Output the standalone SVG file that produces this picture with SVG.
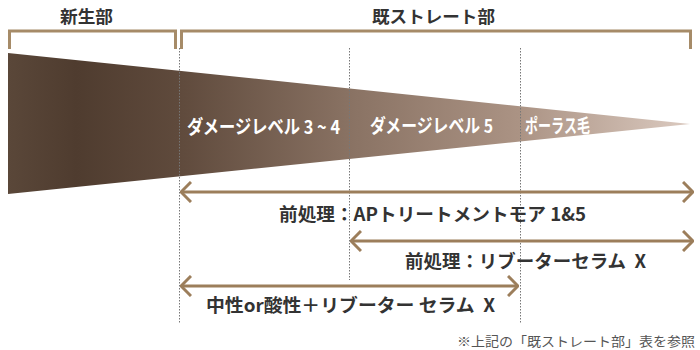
<svg xmlns="http://www.w3.org/2000/svg" width="700" height="350" viewBox="0 0 700 350">
<defs>
<linearGradient id="wedgeGrad" x1="8" y1="0" x2="690" y2="0" gradientUnits="userSpaceOnUse">
<stop offset="0" stop-color="#5a4739"/>
<stop offset="0.1" stop-color="#4f3c2f"/>
<stop offset="0.25" stop-color="#5f4a3c"/>
<stop offset="0.5" stop-color="#897263"/>
<stop offset="0.75" stop-color="#ab9384"/>
<stop offset="1" stop-color="#dbcac0"/>
</linearGradient>
<marker id="head" viewBox="0 0 12 22" refX="11" refY="11" markerWidth="12" markerHeight="22" markerUnits="userSpaceOnUse" orient="auto-start-reverse">
<polyline points="1,1 11,11 1,21" fill="none" stroke="#9c7e5b" stroke-width="3" stroke-linecap="butt"/>
</marker>
</defs>
<style>
.bracket{fill:none;stroke:#a68b68;stroke-width:3}
.dot{fill:none;stroke:#777;stroke-width:1;stroke-dasharray:1.5 1.5}
.arrow{fill:none;stroke:#9c7e5b;stroke-width:3}
.head{font-family:"Noto Sans CJK JP","Noto Sans",sans-serif;font-weight:bold;font-size:17px;fill:#333}
.lbl{font-family:"Noto Sans CJK JP","Noto Sans",sans-serif;font-weight:bold;font-size:18px;fill:#333;white-space:pre}
.wlbl{font-family:"Noto Sans CJK JP","Noto Sans",sans-serif;font-weight:bold;font-size:19px;fill:#fff}
.note{font-family:"Noto Sans CJK JP","Noto Sans",sans-serif;font-size:13px;fill:#555}
</style>
<g id="brackets">
<polyline class="bracket" points="9.5,49 9.5,31 175.5,31 175.5,49"/>
<polyline class="bracket" points="181.5,49 181.5,31 690.5,31 690.5,49"/>
</g>
<g id="headers">
<text class="head" x="60" y="15" textLength="53" lengthAdjust="spacingAndGlyphs" dominant-baseline="central">新生部</text>
<text class="head" x="372" y="15" textLength="123" lengthAdjust="spacingAndGlyphs" dominant-baseline="central">既ストレート部</text>
</g>
<g id="wedge">
<polygon points="8,53 690,124 8,194" fill="url(#wedgeGrad)"/>
<text class="wlbl" x="187" y="125" textLength="153" lengthAdjust="spacingAndGlyphs" dominant-baseline="central">ダメージレベル 3 ~ 4</text>
<text class="wlbl" x="370" y="124" textLength="123" lengthAdjust="spacingAndGlyphs" dominant-baseline="central">ダメージレベル 5</text>
<text class="wlbl" x="525" y="124" font-size="15" textLength="65" lengthAdjust="spacingAndGlyphs" dominant-baseline="central">ポーラス毛</text>
</g>
<g id="guides">
<line class="dot" x1="179.5" y1="48" x2="179.5" y2="323"/>
<line class="dot" x1="349.5" y1="48" x2="349.5" y2="280"/>
<line class="dot" x1="520.5" y1="48" x2="520.5" y2="323"/>
</g>
<g id="connectors">
<line class="arrow" x1="181" y1="192" x2="693" y2="192" marker-start="url(#head)" marker-end="url(#head)"/>
<line class="arrow" x1="351" y1="241" x2="693" y2="241" marker-start="url(#head)" marker-end="url(#head)"/>
<line class="arrow" x1="181" y1="286" x2="518" y2="286" marker-start="url(#head)" marker-end="url(#head)"/>
</g>
<g id="labels">
<text class="lbl" x="279" y="212.5" textLength="307" lengthAdjust="spacingAndGlyphs" dominant-baseline="central">前処理：APトリートメントモア 1&amp;5</text>
<text class="lbl" x="405" y="260" textLength="241" lengthAdjust="spacingAndGlyphs" dominant-baseline="central" xml:space="preserve">前処理：リブーターセラム  X</text>
<text class="lbl" x="206" y="304" textLength="289" lengthAdjust="spacingAndGlyphs" dominant-baseline="central" xml:space="preserve">中性or酸性＋リブーター セラム  X</text>
<text class="note" x="457" y="340" textLength="238" lengthAdjust="spacingAndGlyphs" dominant-baseline="central">※上記の「既ストレート部」表を参照</text>
</g>
</svg>
